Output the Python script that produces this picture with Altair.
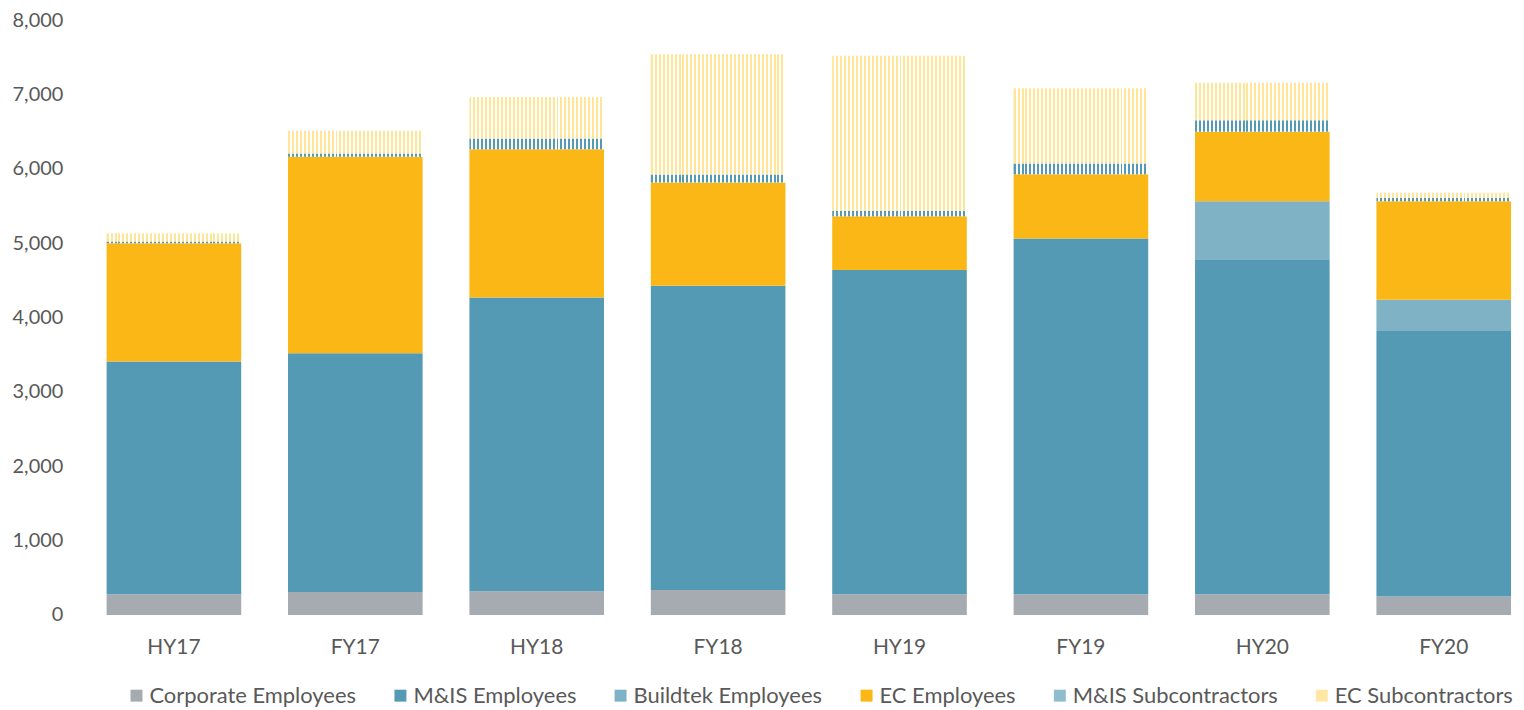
import altair as alt
import pandas as pd

periods = ["HY17", "FY17", "HY18", "FY18", "HY19", "FY19", "HY20", "FY20"]
corporate = [280, 310, 320, 335, 280, 280, 280, 250]
mis_emp = [3130, 3210, 3950, 4095, 4360, 4785, 4505, 3570]
buildtek = [0, 0, 0, 0, 0, 0, 780, 420]
ec_emp = [1590, 2645, 1995, 1390, 725, 865, 937, 1325]
mis_sub = [25, 45, 145, 105, 75, 145, 155, 45]
ec_sub = [110, 305, 560, 1620, 2085, 1010, 505, 70]

series = ["Corporate Employees", "M&IS Employees", "Buildtek Employees",
          "EC Employees", "M&IS Subcontractors", "EC Subcontractors"]
colors = ["#A5ABB0", "#559AB4", "#7FB2C5", "#FBB715", "#8FBDCE", "#FFE8A3"]
y_ticks = [0, 1000, 2000, 3000, 4000, 5000, 6000, 7000, 8000]

rows = []
for s_i, (name, vals) in enumerate(zip(series, [corporate, mis_emp, buildtek, ec_emp, mis_sub, ec_sub])):
    for p, v in zip(periods, vals):
        rows.append({"period": p, "series": name, "order": s_i, "value": v})
df = pd.DataFrame(rows)


def stripes(c1, c2, n, frac):
    stops = []
    for i in range(n):
        a = i / n
        b = (i + frac) / n
        c = (i + 1) / n
        stops += [alt.GradientStop(offset=a, color=c1),
                  alt.GradientStop(offset=b, color=c1),
                  alt.GradientStop(offset=b, color=c2),
                  alt.GradientStop(offset=min(c, 1.0), color=c2)]
    return alt.LinearGradient(gradient="linear", stops=stops, x1=0, x2=1, y1=0, y2=0)


grad_mis = stripes("#559AB4", "#FFFFFF", 34, 0.5)
grad_ec = stripes("#FFE597", "#FFFFFF", 34, 0.5)

FONT = "Lato"
LABEL_COLOR = "#595959"

x_enc = alt.X("period:N", sort=periods,
              scale=alt.Scale(paddingInner=0.258, paddingOuter=0),
              axis=alt.Axis(title=None, labelAngle=0, ticks=False, domain=False,
                            labelFontSize=21, labelColor=LABEL_COLOR, labelFont=FONT,
                            labelPadding=22))
y_enc = alt.Y("y0:Q", scale=alt.Scale(domain=[0, 8000], nice=False),
              axis=alt.Axis(title=None, values=y_ticks, format=",.0f", grid=False,
                            domain=False, ticks=False, labelFontSize=20,
                            labelColor=LABEL_COLOR, labelFont=FONT, labelPadding=44))

base = alt.Chart(df).transform_stack(
    stack="value", groupby=["period"], as_=["y0", "y1"],
    sort=[alt.SortField("order", order="ascending")]
)

emp = base.transform_filter("datum.order < 4").mark_bar().encode(
    x=x_enc, y=y_enc, y2="y1:Q",
    color=alt.Color("series:N",
                    scale=alt.Scale(domain=series, range=colors),
                    legend=alt.Legend(title=None, orient="none", legendX=19, legendY=667,
                                      direction="horizontal", symbolType="square",
                                      symbolSize=144, symbolStrokeWidth=0,
                                      labelFontSize=22, labelColor=LABEL_COLOR,
                                      labelFont=FONT, columnPadding=33, labelOffset=2,
                                      labelLimit=0, padding=0))
)

mis_layer = base.transform_filter("datum.order == 4").mark_bar(color=grad_mis).encode(
    x=x_enc, y=y_enc, y2="y1:Q")
ec_layer = base.transform_filter("datum.order == 5").mark_bar(color=grad_ec).encode(
    x=x_enc, y=y_enc, y2="y1:Q")

chart = alt.layer(emp, mis_layer, ec_layer).properties(
    width=1410, height=597,
    autosize=alt.AutoSizeParams(type="none"),
    padding={"left": 99, "top": 11, "right": 5, "bottom": 92},
).configure(font=FONT).configure_view(stroke=None)

chart.save("out.html", embed_options={"renderer": "svg", "actions": False})
